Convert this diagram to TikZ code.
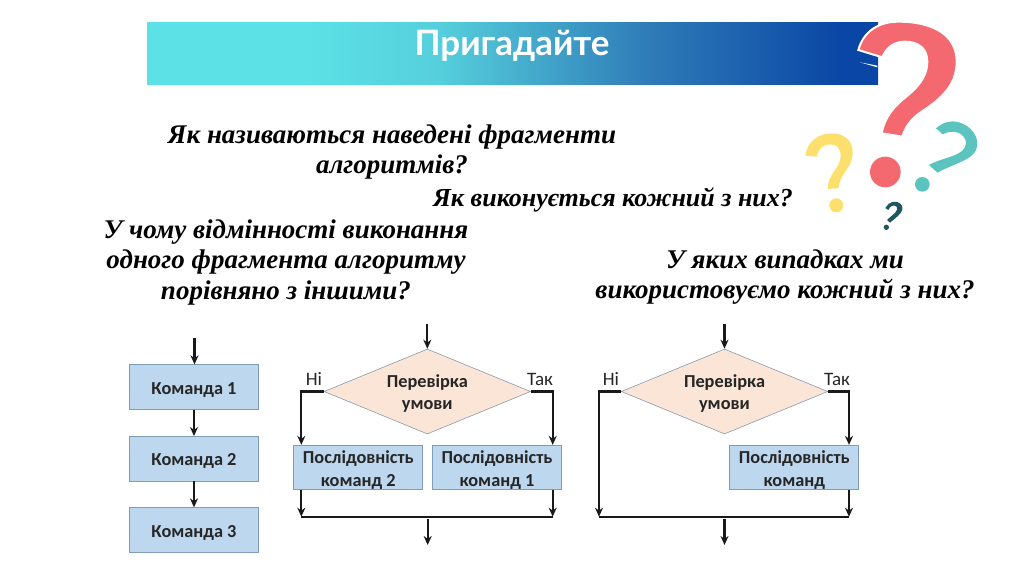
\documentclass[tikz,border=0pt]{standalone}
\usepackage{fontspec}
\setmainfont{Liberation Serif}
\newfontfamily\titlefont{Lato}
\newfontfamily\chartfont{Carlito}
\usetikzlibrary{shapes.geometric,arrows.meta}
\definecolor{boxblue}{HTML}{BDD7EE}
\definecolor{boxedge}{HTML}{7F9DB9}
\definecolor{diamondfill}{HTML}{FBE5D6}
\definecolor{diamondedge}{HTML}{8C9AA8}
\definecolor{qred}{HTML}{F4696F}
\definecolor{qyellow}{HTML}{FDDF6D}
\definecolor{qteal}{HTML}{5CC4BE}
\definecolor{qdark}{HTML}{1D5560}
\definecolor{c1}{HTML}{5CE1E6}
\definecolor{c2}{HTML}{55CFDC}
\definecolor{c3}{HTML}{2F7DB8}
\definecolor{c4}{HTML}{0A46A5}
\newcommand{\lowerstrut}{\rule{0pt}{17pt}}
\pgfdeclarehorizontalshading{bannershade}{100bp}{
 color(0bp)=(c1); color(36bp)=(c1); color(45bp)=(c2); color(59bp)=(c3); color(72.5bp)=(c4); color(100bp)=(c4)}
\tikzset{
 boxnode/.style={draw=boxedge,fill=boxblue,line width=0.8pt,minimum width=129pt,minimum height=44.5pt,inner sep=0pt,align=center,
   font=\chartfont\bfseries\fontsize{18.3}{23}\selectfont,text=black!85},
 decision/.style={draw=diamondedge,fill=diamondfill,line width=0.6pt,diamond,aspect=2.43,minimum width=206.5pt,minimum height=85pt,inner sep=0pt},
 difftext/.style={font=\chartfont\bfseries\fontsize{18.3}{22}\selectfont,text=black!85,align=center,inner sep=0pt},
 branchlabel/.style={font=\chartfont\fontsize{19}{20}\selectfont,text=black!85,inner sep=0pt},
 flow/.style={line width=2.1pt,black!90,-{Stealth[length=9pt,width=8pt]}},
 plainflow/.style={line width=2.1pt,black!90},
 question/.style={font=\fontsize{27}{30}\selectfont\bfseries\itshape,inner sep=0pt,align=center},
}
\begin{document}
\begin{tikzpicture}[x=1pt,y=-1pt]
\useasboundingbox (0,0) rectangle (1024,574);
% banner
\node[draw=none,minimum width=731pt,minimum height=62pt,inner sep=0pt,shading=bannershade,anchor=north west] (banner) at (147,22) {};
\node[font=\titlefont\bfseries\fontsize{35}{38}\selectfont,text=white,inner sep=0pt] (title) at (512,46) {Пригадайте};
% questions
\node[question] (q1) at (392,152) {Як називаються наведені фрагменти\\[0.5pt]алгоритмів?};
\node[question,font=\fontsize{26}{30}\selectfont\bfseries\itshape] (q2) at (613,200) {Як виконується кожний з них?};
\node[question] (q3) at (286,262) {У чому відмінності виконання\\[0.5pt]одного фрагмента алгоритму\\[0.5pt]порівняно з іншими?};
\node[question] (q4) at (785,277) {У яких випадках ми\\[0.5pt]використовуємо кожний з них?};
% question marks
\begin{scope}[shift={(780,0)},x=0.3333pt,y=-0.3333pt]
 \path[fill=qred,draw=white,line width=2pt]
  (235,150) .. controls (250,95) and (295,65) .. (355,65)
  .. controls (460,65) and (530,105) .. (530,185)
  .. controls (530,250) and (490,290) .. (440,325)
  .. controls (400,350) and (380,370) .. (367,410)
  -- (305,400)
  .. controls (315,350) and (340,320) .. (385,285)
  .. controls (420,255) and (442,225) .. (442,185)
  .. controls (442,145) and (415,125) .. (375,125)
  .. controls (345,125) and (320,140) .. (307,172)
  -- cycle;
 \path[fill=white] (240,187) -- (292,197) -- (292,202) -- cycle;
 \fill[qred] (316,516) circle[radius=46];
 \path[fill=qyellow]
  (76,467) .. controls (82,425) and (115,400) .. (155,400)
  .. controls (195,400) and (222,425) .. (218,465)
  .. controls (214,505) and (180,520) .. (175,565)
  -- (143,567)
  .. controls (143,520) and (182,505) .. (182,468)
  .. controls (182,445) and (170,433) .. (150,433)
  .. controls (130,433) and (115,445) .. (110,470) -- cycle;
 \fill[qyellow] (169,616) circle[radius=21];
 \path[fill=qteal]
  (468,385) .. controls (490,365) and (520,357) .. (550,372)
  .. controls (585,388) and (600,425) .. (588,450)
  .. controls (575,480) and (525,490) .. (472,518)
  -- (447,495)
  .. controls (490,470) and (555,470) .. (558,430)
  .. controls (558,400) and (520,385) .. (488,403) -- cycle;
 \fill[qteal] (427,553) circle[radius=22];
 \path[fill=qdark]
  (316,624) .. controls (325,605) and (350,598) .. (362,612)
  .. controls (378,630) and (355,648) .. (330,668)
  -- (321,660)
  .. controls (340,642) and (358,632) .. (350,620)
  .. controls (342,612) and (330,618) .. (325,630) -- cycle;
 \fill[qdark] (319,682) circle[radius=8];
\end{scope}
% left chart
\coordinate (inA) at (194.5,338);
\node[boxnode] (k1) at (194,387) {\lowerstrut Команда 1};
\node[boxnode] (k2) at (194,458.7) {\lowerstrut Команда 2};
\node[boxnode] (k3) at (194,530) {\lowerstrut Команда 3};
\draw[flow] (inA) -- (k1.north -| inA);
\draw[flow] (k1) -- (k2);
\draw[flow] (k2) -- (k3);
% middle chart
\node[decision] (d1) at (427.3,391.5) {};
\node[difftext] (d1t) at (427.3,393.5) {Перевірка\\умови};
\coordinate (inB) at (427.3,324);
\coordinate (outB) at (427.7,519);
\coordinate (outBe) at (427.7,545);
\node[boxnode] (s2) at (358.3,467.5) {\lowerstrut Послідовність\\команд 2};
\node[boxnode] (s1) at (497,467.5) {\lowerstrut Послідовність\\команд 1};
\node[branchlabel] (no1) at (314,379) {Ні};
\node[branchlabel] (yes1) at (540,379) {Так};
\coordinate (ml) at (301.3,516.7);
\coordinate (mr) at (552.7,516.7);
\draw[flow] (inB) -- (d1.north);
\draw[flow] (d1.west) -| (ml |- s2.north);
\draw[flow] (d1.east) -| (mr |- s1.north);
\draw[flow] (ml |- s2.south) -- (ml);
\draw[flow] (mr |- s1.south) -- (mr);
\draw[plainflow] (ml) -- (mr);
\draw[flow] (outB) -- (outBe);
% right chart
\node[decision] (d2) at (724.5,391.5) {};
\node[difftext] (d2t) at (724.5,393.5) {Перевірка\\умови};
\coordinate (inC) at (724.5,324);
\coordinate (outC) at (724.5,519);
\coordinate (outCe) at (724.5,545);
\node[boxnode] (s3) at (794.3,467.5) {\lowerstrut Послідовність\\команд};
\node[branchlabel] (no2) at (611,379) {Ні};
\node[branchlabel] (yes2) at (837,379) {Так};
\coordinate (rl) at (599,516.7);
\coordinate (rr) at (849,516.7);
\draw[flow] (inC) -- (d2.north);
\draw[flow] (d2.west) -| (rl);
\draw[flow] (d2.east) -| (rr |- s3.north);
\draw[flow] (rr |- s3.south) -- (rr);
\draw[plainflow] (rl) -- (rr);
\draw[flow] (outC) -- (outCe);
\end{tikzpicture}
\end{document}
